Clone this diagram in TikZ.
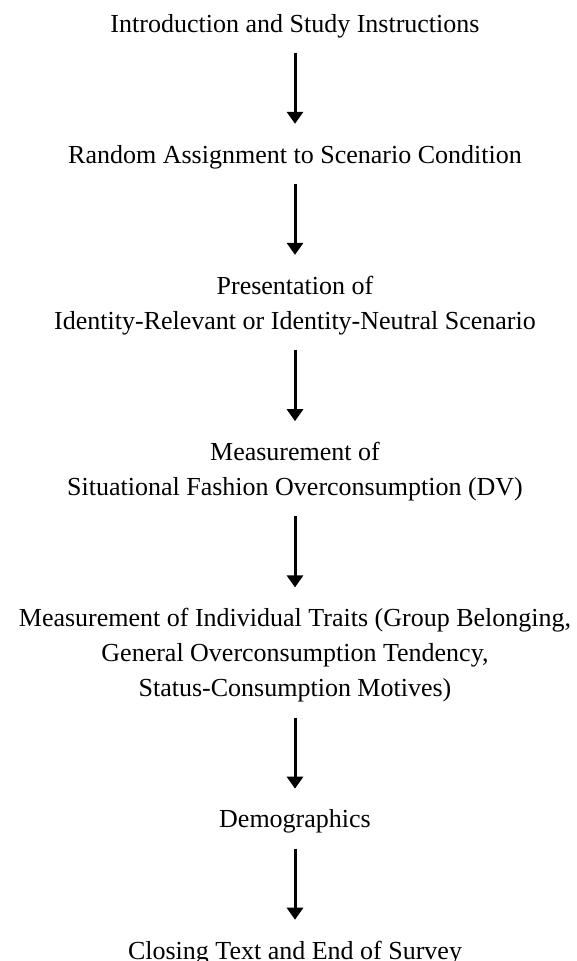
\documentclass[tikz,border=0pt]{standalone}
\usepackage{fontspec}
\setmainfont{Liberation Serif}
\usetikzlibrary{positioning,arrows.meta}

\begin{document}
\begin{tikzpicture}[
    x=1pt, y=1pt,
    node distance=107pt,
    stepbox/.style={inner sep=0pt, align=center, font=\fontsize{26pt}{35pt}\selectfont},
    arrow/.style={-{Triangle[width=16pt,length=12pt]}, line width=3pt, shorten <=15pt, shorten >=21pt}
]
    \useasboundingbox (0,0) rectangle (577,-961);

    % Survey steps
    \node[stepbox, anchor=base] (intro) at (295,-32) {Introduction and Study Instructions};
    \node[stepbox, below=of intro] (assign) {Random Assignment to Scenario Condition};
    \node[stepbox, below=of assign] (scenario) {Presentation of\\Identity-Relevant or Identity-Neutral Scenario};
    \node[stepbox, below=of scenario] (dv) {Measurement of\\Situational Fashion Overconsumption (DV)};
    \node[stepbox, below=of dv] (traits) {Measurement of Individual Traits (Group Belonging,\\General Overconsumption Tendency,\\Status-Consumption Motives)};
    \node[stepbox, below=of traits] (demo) {Demographics};
    \node[stepbox, below=of demo] (closing) {Closing Text and End of Survey};

    % Connections
    \draw[arrow] (intro) -- (assign);
    \draw[arrow] (assign) -- (scenario);
    \draw[arrow] (scenario) -- (dv);
    \draw[arrow] (dv) -- (traits);
    \draw[arrow] (traits) -- (demo);
    \draw[arrow] (demo) -- (closing);
\end{tikzpicture}
\end{document}
